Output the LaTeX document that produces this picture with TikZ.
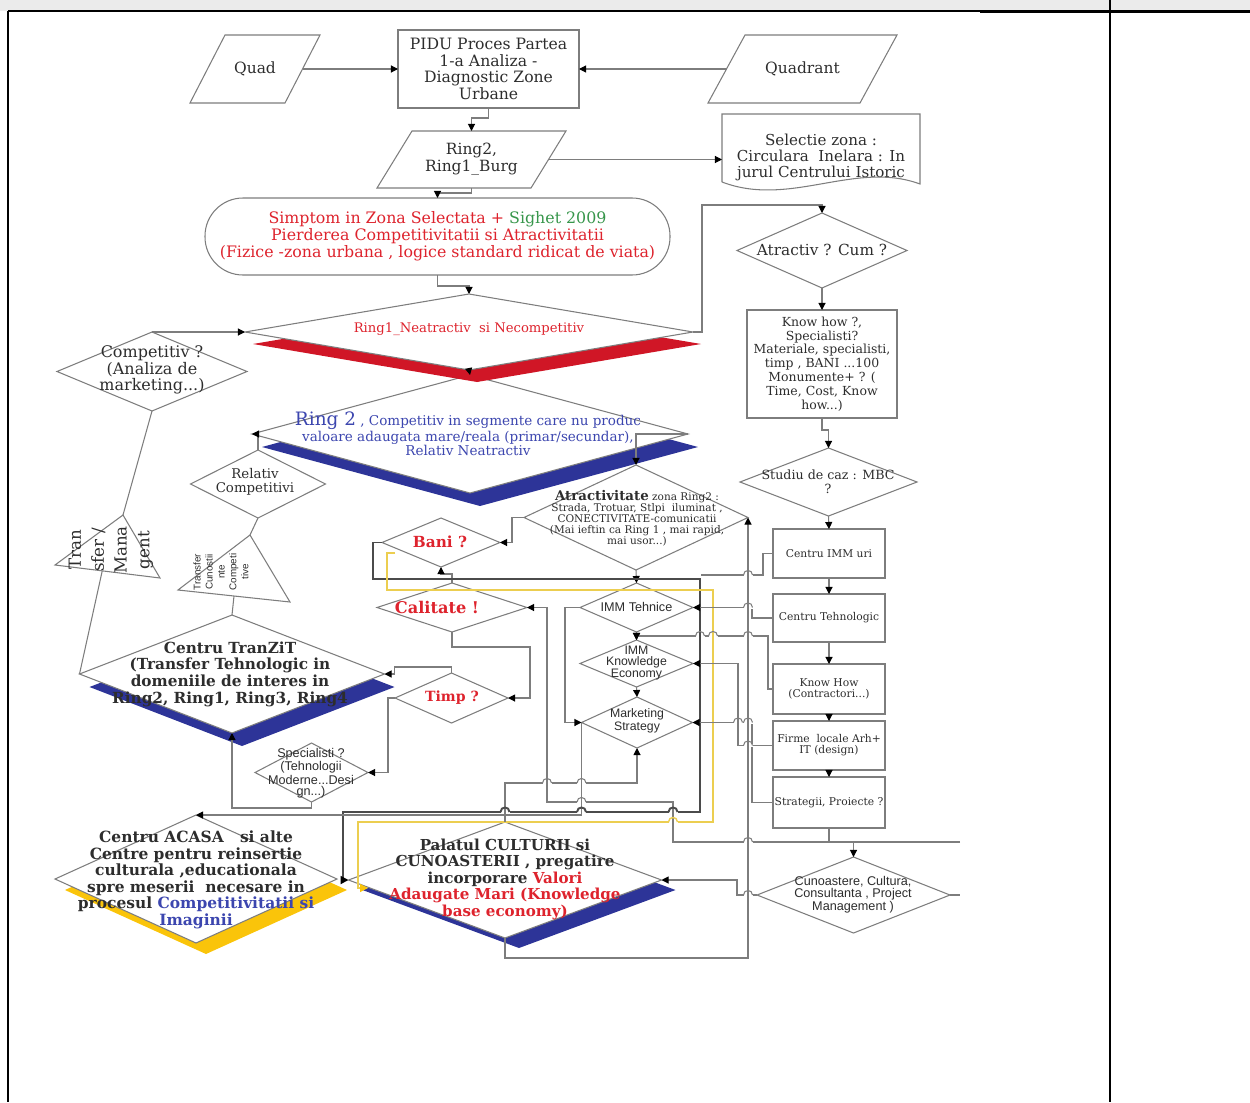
\documentclass[tikz,border=0pt]{standalone}
\usepackage{fontspec}
\setmainfont{DejaVu Serif}
\setsansfont{Liberation Sans}
\usetikzlibrary{shapes.geometric,arrows.meta,shadows,calc}
\definecolor{lc}{RGB}{125,125,125}
\definecolor{tx}{RGB}{45,45,45}
\definecolor{tred}{RGB}{222,35,45}
\definecolor{tgreen}{RGB}{55,150,75}
\definecolor{tblue}{RGB}{60,70,175}
\definecolor{bred}{RGB}{208,22,38}
\definecolor{bblue}{RGB}{45,52,152}
\definecolor{byel}{RGB}{250,196,10}
\definecolor{ylw}{RGB}{236,206,80}
\definecolor{dk}{RGB}{75,75,75}
\newcommand{\fsz}[2]{\fontsize{#1}{#2}\selectfont}
% line hop: x, y, style of the hopping (horizontal) line, style of the crossed (vertical) line
\newcommand{\hop}[4]{%
  \fill[white] (#1-4.5,#2-1.7) rectangle (#1+4.5,#2+1.7);
  \draw[#4] (#1,#2-1.8) -- (#1,#2+1.8);
  \draw[#3] (#1-4.5,#2) .. controls (#1-4.5,#2-6) and (#1+4.5,#2-6) .. (#1+4.5,#2);}
\begin{document}
\begin{tikzpicture}[x=0.02cm,y=-0.02cm,
  ln/.style={draw=lc, line width=0.6pt},
  dkln/.style={draw=dk, line width=1.1pt},
  yln/.style={draw=ylw, line width=0.8pt},
  arr/.style={ln, -{Triangle[length=4pt,width=4pt,color=black]}},
  dkarr/.style={dkln, -{Triangle[length=4.5pt,width=4.5pt,color=black]}},
  yarr/.style={yln, -{Triangle[length=4.5pt,width=4.5pt,color=byel]}},
  sz/.style 2 args={minimum width=#1*0.02cm, minimum height=#2*0.02cm},
  box/.style={rectangle, draw=lc, fill=white, line width=0.6pt, inner sep=0pt, outer sep=0pt, align=center, text=tx},
  pg/.style={inner sep=0pt, outer sep=0pt, align=center, text=tx},
  dia/.style={diamond, draw=lc, fill=white, line width=0.6pt, inner sep=0pt, outer sep=0pt},
  txt/.style={align=center, inner sep=0pt, text=tx},
  shred/.style={general shadow={fill=bred, shadow xshift=0.16cm, shadow yshift=-0.24cm}},
  shblue/.style={general shadow={fill=bblue, shadow xshift=0.2cm, shadow yshift=-0.26cm}},
  shyel/.style={general shadow={fill=byel, shadow xshift=0.2cm, shadow yshift=-0.22cm}}
]
\useasboundingbox (0,0) rectangle (1250,1102);
% table frame
\fill[black!8] (0,0) rectangle (1250,11);
\draw[black, line width=0.7pt] (8,11) -- (1250,11);
\draw[black, line width=1.6pt] (980,11.5) -- (1250,11.5);
\draw[black, line width=0.9pt] (8,11) -- (8,1102);
\draw[black, line width=0.9pt] (1110,0) -- (1110,1102);

% ---------- top ----------
\node[box, sz={181}{78}, font={\fsz{8.9}{9.5}}] (pidu) at (488.5,69) {PIDU Proces Partea\\1-a Analiza -\\Diagnostic Zone\\Urbane};
\node[pg, sz={95}{68}, font={\fsz{8.8}{10}}] (quad) at (255,69) {Quad};
\draw[ln] ($(quad.south west)+(-17.5,0)$) -- ($(quad.north west)+(17.5,0)$) -- ($(quad.north east)+(17.5,0)$) -- ($(quad.south east)+(-17.5,0)$) -- cycle;
\node[pg, sz={152}{68}, font={\fsz{8.8}{10}}] (quadrant) at (802.5,69) {Quadrant};
\draw[ln] ($(quadrant.south west)+(-18.5,0)$) -- ($(quadrant.north west)+(18.5,0)$) -- ($(quadrant.north east)+(18.5,0)$) -- ($(quadrant.south east)+(-18.5,0)$) -- cycle;
\node[pg, sz={154}{57}, font={\fsz{8.8}{9.7}}] (rb) at (471.5,159.5) {Ring2,\\Ring1\_Burg};
\draw[ln] ($(rb.south west)+(-17.5,0)$) -- ($(rb.north west)+(17.5,0)$) -- ($(rb.north east)+(17.5,0)$) -- ($(rb.south east)+(-17.5,0)$) -- cycle;
\node[pg, sz={198}{86}, font={\fsz{8.6}{9.1}}] (sel) at (821,157) {Selectie zona :\\Circulara \ Inelara : In\\jurul Centrului Istoric};
\draw[ln] ($(sel.south west)+(0,-18)$) -- (sel.north west) -- (sel.north east) -- ($(sel.south east)+(0,-16)$) .. controls ($(sel.south east)+(-65,-40)$) and ($(sel.south west)+(68,8)$) .. ($(sel.south west)+(0,-18)$);
\node[box, rounded corners=0.76cm, sz={465}{77}, font={\fsz{9}{9.7}}, text=tred] (simp) at (437.5,236.5) {Simptom in Zona Selectata + \textcolor{tgreen}{Sighet 2009}\\Pierderea Competitivitatii si Atractivitatii\\(Fizice -zona urbana , logice standard ridicat de viata)};

% ---------- diamonds and boxes ----------
\node[dia, shblue, sz={436}{118}] (ring2) at (470,434) {};
\node[dia, shred, sz={448}{76}] (ring1) at (469,332) {};
\node[dia, sz={190}{79}] (comp) at (152,371.5) {};
\node[dia, sz={170}{75}] (atr) at (822,250.5) {};
\node[box, sz={150}{108}, font={\fsz{7.1}{7.85}}] (know) at (822,364) {Know how ?,\\Specialisti?\\Materiale, specialisti,\\timp , BANI ...100\\Monumente+ ? (\\Time, Cost, Know\\how...)};
\node[dia, sz={177}{68}] (stud) at (828.5,482) {};
\node[box, sz={112}{49}, font={\fsz{6.1}{6.3}}] (imm) at (829,553.5) {Centru IMM uri};
\node[box, sz={112}{48}, font={\fsz{6.1}{6.3}}] (tehn) at (829,618) {Centru Tehnologic};
\node[box, sz={112}{50}, font={\fsz{6.1}{6.3}}] (khow) at (829,689) {Know How\\(Contractori...)};
\node[box, sz={112}{49}, font={\fsz{6.1}{6.3}}] (firme) at (829,745.5) {Firme \ locale Arh+\\IT (design)};
\node[box, sz={112}{51}, font={\fsz{6.1}{6.3}}] (strat) at (829,802.5) {Strategii, Proiecte ?};
\node[dia, sz={193}{76}] (cun) at (853.5,895) {};
\node[dia, sz={135}{68}] (rel) at (258,484) {};
\node[dia, sz={224}{105}] (atv) at (636,517.5) {};
\node[dia, sz={118}{49}] (bani) at (441,542.5) {};
\node[dia, sz={150}{49}] (cal) at (452,607.5) {};
\node[dia, sz={113}{49}] (immt) at (636.5,607.5) {};
\node[dia, sz={113}{47}] (immk) at (636.5,663.5) {};
\node[dia, sz={111}{51}] (mkt) at (637,722.5) {};
\node[dia, sz={113}{50}] (timp) at (451.5,698) {};
\node[dia, shblue, sz={305}{118}] (tranzit) at (232,674) {};
\node[dia, sz={113}{59}] (spec) at (311.5,772.5) {};
\node[dia, shyel, sz={282}{128}] (acasa) at (196,879) {};
\node[dia, general shadow={fill=bblue, shadow xshift=0.28cm, shadow yshift=-0.2cm}, sz={313}{116}] (pal) at (505,880) {};

% triangles
\coordinate (t1a) at (123,515);
\coordinate (t1b) at (55,565);
\coordinate (t1c) at (160,578);
\draw[ln, fill=white] (t1a) -- (t1b) -- (t1c) -- cycle;
\coordinate (t2a) at (250,535);
\coordinate (t2b) at (178,590);
\coordinate (t2c) at (290,602);
\draw[ln, fill=white] (t2a) -- (t2b) -- (t2c) -- cycle;

% ---------- connectors ----------
\draw[arr] (quad.east) -- (pidu.west);
\draw[arr] (quadrant.west) -- (pidu.east);
\draw[arr] (pidu.south) -- ++(0,10) -| (rb.north);
\draw[arr] (rb.east) -- (rb.east -| sel.west);
\draw[arr] (rb.south) -- ++(0,5) -| (simp.north);
\draw[arr] (simp.south) -- ++(0,11) -| (ring1.north);
\coordinate (k1) at (702,205);
\draw[arr] (ring1.east) -| (k1) -| (atr.north);
\draw[arr] (comp.north) |- (ring1.west);
\draw[arr] (ring1.south) -- (ring2.north);
\draw[arr] (atr.south) -- (know.north);
\draw[arr] (know.south) -- ++(0,12) -| (stud.north);
\draw[arr] (stud.south) -- (imm.north);
\draw[arr] (imm.south) -- (tehn.north);
\draw[arr] (tehn.south) -- (khow.north);
\draw[arr] (khow.south) -- (firme.north);
\draw[arr] (firme.south) -- (strat.north);
\draw[arr] (strat.south) -- ++(0,14) -| (cun.north);
\coordinate (c1) at (960,842);
\draw[arr] (c1) -- (673,842) -- (673,802) -- (547,802) -- (547,607.5) -- (cal.east);
\coordinate (c2) at (960,895);
\draw[ln] (cun.east) -- (c2);
\draw[arr] (ring2.east) -| (atv.north);
\draw[arr] (atv.west) -- ++(-12,0) |- (bani.east);
\draw[arr] (cal.north) -- ++(0,-9) -| (bani.south);
\draw[arr] (atv.south) -- (immt.north);
\draw[arr] (immt.south) -- (immk.north);
\draw[arr] (immk.south) -- (mkt.north);
\draw[arr] (immt.west) -- ++(-15,0) |- (mkt.west);
\draw[dkarr] (bani.west) -- ++(-9,0) |- (700,579) -- (700,812) -- (343,812) |- (pal.west);
\coordinate (y0) at (395,553);
\coordinate (y1) at (368,888);
\draw[yarr] (y0) -- (387,553) -- (387,590) -- (713,590) -- (713,822) -- (358,822) |- (y1);
\coordinate (c3) at (701,575);
\draw[ln] (imm.west) -- ++(-10,0) |- (c3);
\draw[arr] (tehn.west) -- ++(-21,0) |- (immt.east);
\draw[arr] (khow.west) -- ++(-5,0) |- ($(immk.north)+(0,-4)$) -- (immk.north);
\draw[arr] (firme.west) -- ++(-35,0) |- (immk.east);
\draw[arr] (strat.west) -- ++(-21,0) |- (mkt.east);
\draw[arr] (pal.north) -- ++(0,-39) -| (mkt.south);
\draw[arr] (mkt.west) |- (acasa.north);
\coordinate (b1) at (748,958);
\draw[arr] (pal.south) |- (b1) -- (atv.east);
\draw[arr] (cun.west) -- ++(-20,0) |- (pal.east);
\draw[arr] (cal.south) -- ++(0,15) -| ($(timp.east)+(22,0)$) -- (timp.east);
\draw[arr] (timp.north) -- ++(0,-6) -| ($(tranzit.east)+(10,0)$) -- (tranzit.east);
\draw[arr] (timp.west) -- ++(-7,0) |- (spec.east);
\draw[arr] (spec.south) -- ++(0,6) -| (tranzit.south);
\draw[arr] (rel.north) |- (ring2.west);
\draw[ln] (rel.south) -- (t2a);
\draw[ln] ($(t2b)!0.5!(t2c)$) -- (tranzit.north);
\draw[ln] (comp.south) -- (t1a);
\draw[ln] ($(t1b)!0.45!(t1c)$) -- (tranzit.west);

% line hops
\hop{748}{575}{ln}{ln}
\hop{748}{607.5}{ln}{ln}
\hop{748}{636}{ln}{ln}
\hop{713}{636}{ln}{yln}
\hop{700}{636}{ln}{dkln}
\hop{748}{722.5}{ln}{ln}
\hop{738}{722.5}{ln}{ln}
\hop{748}{745.5}{ln}{ln}
\hop{748}{842}{ln}{ln}
\hop{748}{895}{ln}{ln}
\hop{547}{783}{ln}{ln}
\hop{581.5}{783}{ln}{ln}
\hop{581.5}{802}{ln}{ln}
\hop{581.5}{812}{dkln}{ln}
\hop{673}{812}{dkln}{ln}
\hop{505}{812}{dkln}{ln}
\hop{673}{822}{yln}{ln}

% ---------- texts ----------
\node[txt, text=tred, font={\fsz{7.5}{8}}] (ring1t) at (469,329) {Ring1\_Neatractiv \ si Necompetitiv};
\node[txt, text=tblue, font={\fsz{7.7}{8}}] (ring2t) at (468,434) {{\fsz{10.5}{8}Ring 2} , Competitiv in segmente care nu produc\\valoare adaugata mare/reala (primar/secundar),\\Relativ Neatractiv};
\node[txt, font={\fsz{9.1}{9.4}}] (compt) at (152,370) {Competitiv ?\\(Analiza de\\marketing...)};
\node[txt, font={\fsz{8.7}{9}}] (atrt) at (822,250) {Atractiv ? Cum ?};
\node[txt, font={\fsz{7.2}{8}}] (studt) at (828,482) {Studiu de caz : MBC\\?};
\node[txt, font={\fsz{7.6}{8}}] (relt) at (255,482) {Relativ\\Competitivi};
\node[txt, font={\fsz{6}{6.2}}] (atvt) at (637,518) {{\fsz{7.6}{6.2}\bfseries Atractivitate} zona Ring2 :\\Strada, Trotuar, Stlpi \ iluminat ,\\CONECTIVITATE-comunicatii\\(Mai ieftin ca Ring 1 , mai rapid,\\mai usor...)};
\node[txt, text=tred, font={\fsz{8.7}{9}\bfseries}] (banit) at (440,542) {Bani ?};
\node[txt, text=tred, font={\fsz{9.2}{9}\bfseries}] (calt) at (437,607) {Calitate !};
\node[txt, text=tred, font={\fsz{8}{9}\bfseries}] (timpt) at (452,698) {Timp ?};
\node[txt, font={\sffamily\fsz{7.2}{7}}] (immtt) at (636.5,607) {IMM Tehnice};
\node[txt, font={\sffamily\fsz{7}{6.2}}] (immkt) at (636.5,663) {IMM\\Knowledge\\Economy};
\node[txt, font={\sffamily\fsz{7}{6.2}}] (mktt) at (637,721) {Marketing\\Strategy};
\node[txt, font={\sffamily\fsz{7.2}{6.1}}] (spect) at (311,773) {Specialisti ?\\(Tehnologii\\Moderne...Desi\\gn...)};
\node[txt, font={\sffamily\fsz{7.2}{6.3}}] (cunt) at (853,895) {Cunoastere, Cultura,\\Consultanta , Project\\Management )};
\node[txt, font={\fsz{8.7}{9.5}\bfseries}] (tranzitt) at (230,674) {Centru TranZiT\\(Transfer Tehnologic in\\domeniile de interes in\\Ring2, Ring1, Ring3, Ring4};
\node[txt, font={\fsz{8.8}{9.4}\bfseries}] (acasat) at (196,880) {Centru ACASA \ \ si alte\\Centre pentru reinsertie\\culturala ,educationala\\spre meserii \ necesare in\\procesul \textcolor{tblue}{Competitivitatii si}\\\textcolor{tblue}{Imaginii}};
\node[txt, font={\fsz{8.6}{9.4}\bfseries}] (palt) at (505,879) {Palatul CULTURII si\\CUNOASTERII , pregatire\\incorporare \textcolor{tred}{Valori}\\\textcolor{tred}{Adaugate Mari (Knowledge}\\\textcolor{tred}{base economy)}};
\node[txt, rotate=90, font={\fsz{9.5}{13}}] (t1t) at (111,550) {Tran\\sfer /\\Mana\\gent};
\node[txt, rotate=90, font={\sffamily\fsz{5.6}{6.8}}] (t2t) at (221,572) {Transfer\\Cunostii\\nte\\Competi\\tive};
\end{tikzpicture}
\end{document}
